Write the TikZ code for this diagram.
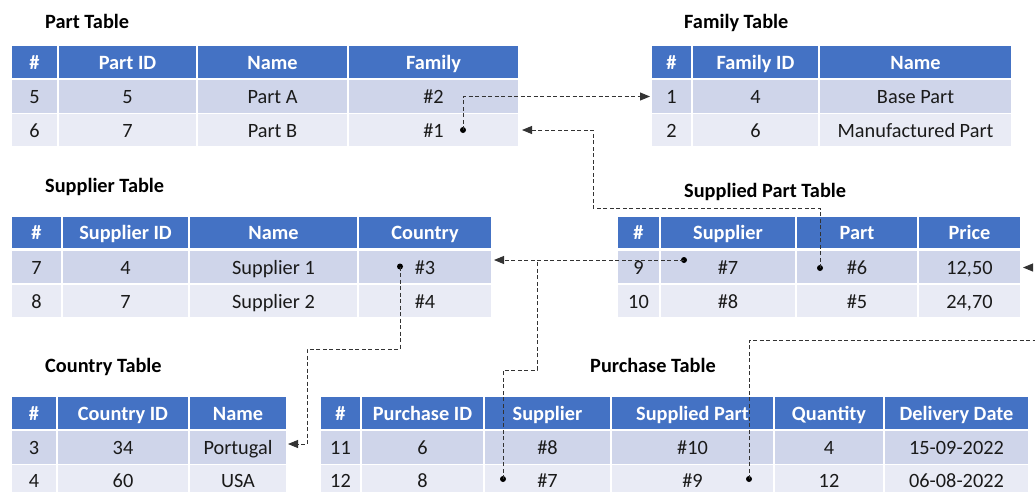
\documentclass[tikz,border=0pt]{standalone}
\usepackage{fontspec}
\setmainfont{Carlito}
\usetikzlibrary{arrows.meta}

\definecolor{hdrblue}{HTML}{4472C4}
\definecolor{bandA}{HTML}{CFD5EA}
\definecolor{bandB}{HTML}{E9EBF5}
\definecolor{ink}{HTML}{1A1A1A}
\definecolor{linkgray}{HTML}{333333}

% one row of a table: style, name prefix, top y, bottom y, list of left/right/text
\newcommand\tabrow[5]{%
  \foreach \xa/\xb/\txt [count=\ci] in {#5}{%
    \node[#1, minimum width={(\xb-\xa-1.5)*1pt}, minimum height={(#4-#3)*1pt}]
      (#2-\ci) at ({(\xa+\xb)/2},{(#3+#4)/2}) {\txt};
  }}

\begin{document}
\begin{tikzpicture}[x=1pt,y=-1pt,
  cell/.style={inner sep=0pt, outer sep=0pt, align=center,
    font=\fontsize{20.3}{24}\selectfont, text height=15pt, text depth=0pt},
  hcell/.style={cell, fill=hdrblue, text=white,
    font=\fontsize{20.3}{24}\selectfont\bfseries},
  rowa/.style={cell, fill=bandA, text=ink},
  rowb/.style={cell, fill=bandB, text=ink},
  title/.style={anchor=base west, inner sep=0pt,
    font=\fontsize{20.3}{24}\selectfont\bfseries, text=black},
  link/.style={draw=linkgray, line width=0.9pt, dash pattern=on 4pt off 2.5pt},
  arrowlink/.style={link, -{Triangle[length=10pt,width=8pt]}},
  dotnode/.style={circle, fill=black, inner sep=0pt, minimum size=6pt},
]
\useasboundingbox (0,0) rectangle (1035,491);
\clip (0,0) rectangle (1035,491);

% ---------- Part table ----------
\node[title] (t-part) at (45,28.7) {Part Table};
\tabrow{hcell}{part-h}{46}{77.5}{11/58/\#, 58/197/Part ID, 197/348/Name, 348/519/Family}
\tabrow{rowa}{part-r1}{80}{112.5}{11/58/5, 58/197/5, 197/348/Part A, 348/519/\#2}
\tabrow{rowb}{part-r2}{114}{146}{11/58/6, 58/197/7, 197/348/Part B, 348/519/\#1}

% ---------- Family table ----------
\node[title] (t-family) at (684,28.7) {Family Table};
\tabrow{hcell}{fam-h}{46}{77.5}{651/692/\#, 692/819/Family ID, 819/1012/Name}
\tabrow{rowa}{fam-r1}{80}{112.5}{651/692/1, 692/819/4, 819/1012/Base Part}
\tabrow{rowb}{fam-r2}{114}{146}{651/692/2, 692/819/6, 819/1012/Manufactured Part}

% ---------- Supplier table ----------
\node[title] (t-supplier) at (45,192.7) {Supplier Table};
\tabrow{hcell}{sup-h}{216.5}{248}{11/62/\#, 62/189/Supplier ID, 189/358/Name, 358/492/Country}
\tabrow{rowa}{sup-r1}{250.5}{283}{11/62/7, 62/189/4, 189/358/Supplier 1, 358/492/\#3}
\tabrow{rowb}{sup-r2}{284.5}{316.5}{11/62/8, 62/189/7, 189/358/Supplier 2, 358/492/\#4}

% ---------- Supplied part table ----------
\node[title] (t-supplied) at (684,197.5) {Supplied Part Table};
\tabrow{hcell}{sp-h}{216.5}{248}{617/660/\#, 660/796/Supplier, 796/918/Part, 918/1021/Price}
\tabrow{rowa}{sp-r1}{250.5}{283}{617/660/9, 660/796/\#7, 796/918/\#6, 918/1021/{12,50}}
\tabrow{rowb}{sp-r2}{284.5}{316.5}{617/660/10, 660/796/\#8, 796/918/\#5, 918/1021/{24,70}}

% ---------- Country table ----------
\node[title] (t-country) at (45,372) {Country Table};
\tabrow{hcell}{cty-h}{397}{428.5}{11/57/\#, 57/189/Country ID, 189/287/Name}
\tabrow{rowa}{cty-r1}{431}{463.5}{11/57/3, 57/189/34, 189/287/Portugal}
\tabrow{rowb}{cty-r2}{465}{494}{11/57/4, 57/189/60, 189/287/USA}

% ---------- Purchase table ----------
\node[title] (t-purchase) at (590,372.3) {Purchase Table};
\tabrow{hcell}{pur-h}{397}{428.5}{320/361/\#, 361/484/Purchase ID, 484/611/Supplier, 611/774/Supplied Part, 774/884/Quantity, 884/1029/Delivery Date}
\tabrow{rowa}{pur-r1}{431}{463.5}{320/361/11, 361/484/6, 484/611/\#8, 611/774/\#10, 774/884/4, 884/1029/15-09-2022}
\tabrow{rowb}{pur-r2}{465}{494}{320/361/12, 361/484/8, 484/611/\#7, 611/774/\#9, 774/884/12, 884/1029/06-08-2022}

% ---------- reference links ----------
\node[dotnode] (d-fam)    at (463,130)   {};
\node[dotnode] (d-part)   at (820,268)   {};
\node[dotnode] (d-sup)    at (684,260)   {};
\node[dotnode] (d-psup)   at (503,479)   {};
\node[dotnode] (d-cty)    at (400,266.5) {};
\node[dotnode] (d-psp)    at (749,479)   {};

\coordinate (tip-fam)  at (650,96.5);
\coordinate (tip-part) at (522,130);
\coordinate (tip-sup)  at (494,260);
\coordinate (tip-cty)  at (288,444);
\coordinate (tip-sp)   at (1023,267.5);

% part -> family
\draw[arrowlink] (d-fam.center) |- (tip-fam);
% supplied part -> part
\draw[arrowlink] (d-part.center) -- (820,208) -| (593,130) -- (tip-part);
% supplied part -> supplier
\draw[arrowlink] (d-sup.center) -- (tip-sup);
% purchase -> supplier (joins the link above)
\draw[link] (d-psup.center) |- (537,370) -- (537,260);
% supplier -> country
\draw[arrowlink] (d-cty.center) |- (307,349) |- (tip-cty);
% purchase -> supplied part
\draw[arrowlink] (d-psp.center) |- (1045,340) |- (tip-sp);
\end{tikzpicture}
\end{document}
